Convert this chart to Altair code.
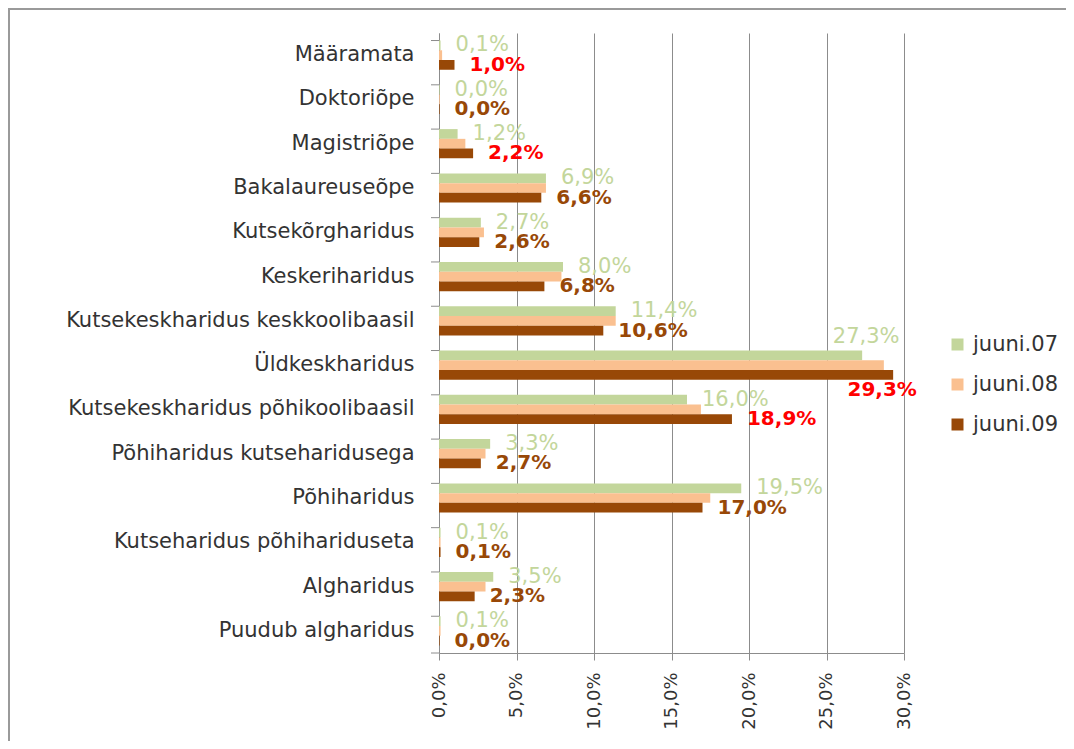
import altair as alt
import pandas as pd

categories = [
    "Määramata", "Doktoriõpe", "Magistriõpe", "Bakalaureuseõpe",
    "Kutsekõrgharidus", "Keskeriharidus", "Kutsekeskharidus keskkoolibaasil",
    "Üldkeskharidus", "Kutsekeskharidus põhikoolibaasil",
    "Põhiharidus kutseharidusega", "Põhiharidus", "Kutseharidus põhihariduseta",
    "Algharidus", "Puudub algharidus",
]
series = ["juuni.07", "juuni.08", "juuni.09"]
juuni07 = [0.1, 0.04, 1.2, 6.9, 2.7, 8.0, 11.4, 27.3, 16.0, 3.3, 19.5, 0.1, 3.5, 0.1]
juuni08 = [0.2, 0.05, 1.7, 6.9, 2.9, 7.9, 11.4, 28.7, 16.9, 3.0, 17.5, 0.1, 3.0, 0.1]
juuni09 = [1.0, 0.04, 2.2, 6.6, 2.6, 6.8, 10.6, 29.3, 18.9, 2.7, 17.0, 0.1, 2.3, 0.04]
x_ticks = [0, 5, 10, 15, 20, 25, 30]

# style
colors = ["#c3d69b", "#fac090", "#984807"]
highlight = ["Määramata", "Magistriõpe", "Üldkeskharidus",
             "Kutsekeskharidus põhikoolibaasil"]
FONT = "DejaVu Sans"
GRID = "#8c8c8c"
TEXT = "#333333"

rows = []
for s, vals in zip(series, [juuni07, juuni08, juuni09]):
    for c, v in zip(categories, vals):
        rows.append({"cat": c, "series": s, "v": v})
df = pd.DataFrame(rows)

base = alt.Chart(df).transform_calculate(
    label="replace(format(datum.v, '.1f'), '.', ',') + '%'"
)

y_enc = alt.Y(
    "cat:N", sort=categories,
    scale=alt.Scale(paddingInner=0.34, paddingOuter=0.17),
    axis=alt.Axis(title=None, ticks=False, tickSize=0, labelPadding=25,
                  labelFontSize=21, labelFont=FONT, labelColor=TEXT,
                  domainColor=GRID, labelLimit=600),
)
yoff = alt.YOffset("series:N", sort=series,
                   scale=alt.Scale(paddingInner=0, paddingOuter=0))

bars = base.mark_bar().encode(
    x=alt.X("v:Q", scale=alt.Scale(domain=[0, 30], nice=False),
            axis=alt.Axis(title=None, values=x_ticks, grid=True, gridColor=GRID,
                          gridOpacity=1, domainColor=GRID, tickColor=GRID,
                          tickSize=7, labelAngle=-90, labelPadding=12,
                          labelFontSize=18, labelFont=FONT, labelColor=TEXT,
                          labelExpr="replace(format(datum.value, '.1f'), '.', ',') + '%'")),
    y=y_enc,
    yOffset=yoff,
    color=alt.Color("series:N", sort=series,
                    scale=alt.Scale(domain=series, range=colors),
                    legend=alt.Legend(title=None, orient="none", legendX=508,
                                      legendY=301, symbolType="square",
                                      symbolSize=144, symbolStrokeWidth=0,
                                      labelFontSize=21, labelFont=FONT,
                                      labelColor=TEXT, labelOffset=5,
                                      rowPadding=18, padding=0)),
)

green_norm = base.transform_filter(
    "datum.series == 'juuni.07' && datum.v <= 25"
).mark_text(align="left", baseline="middle", dx=15, fontSize=21, font=FONT,
            color="#c3d69b").encode(x="v:Q", y=alt.Y("cat:N", sort=categories),
                                    yOffset=yoff, text="label:N")
green_over = base.transform_filter(
    "datum.series == 'juuni.07' && datum.v > 25"
).mark_text(align="center", baseline="middle", dx=4, dy=-18, fontSize=21,
            font=FONT, color="#c3d69b").encode(
    x="v:Q", y=alt.Y("cat:N", sort=categories), yOffset=yoff, text="label:N")

brown_color = alt.condition(alt.FieldOneOfPredicate(field="cat", oneOf=highlight),
                            alt.value("#ff0000"), alt.value("#984807"))
brown_norm = base.transform_filter(
    "datum.series == 'juuni.09' && datum.v <= 25"
).mark_text(align="left", baseline="middle", dx=15, fontSize=20, font=FONT,
            fontWeight="bold").encode(
    x="v:Q", y=alt.Y("cat:N", sort=categories), yOffset=yoff, text="label:N",
    color=brown_color)
brown_over = base.transform_filter(
    "datum.series == 'juuni.09' && datum.v > 25"
).mark_text(align="center", baseline="middle", dx=-11, dy=15, fontSize=20,
            font=FONT, fontWeight="bold").encode(
    x="v:Q", y=alt.Y("cat:N", sort=categories), yOffset=yoff, text="label:N",
    color=brown_color)

ticks = alt.Chart(pd.DataFrame({"cat": categories})).mark_rule(
    color=GRID, strokeWidth=1
).encode(y=alt.Y("cat:N", sort=categories, bandPosition=0),
         x=alt.value(-8), x2=alt.value(0))
bottom_tick = alt.Chart(pd.DataFrame({"cat": categories[-1:]})).mark_rule(
    color=GRID, strokeWidth=1
).encode(y=alt.value(620), x=alt.value(-8), x2=alt.value(0))

frame_left = alt.Chart(pd.DataFrame({"a": [0]})).mark_rule(
    color="#9a9a9a", strokeWidth=2
).encode(x=alt.value(-430), y=alt.value(-24), y2=alt.value(720))
frame_top = alt.Chart(pd.DataFrame({"a": [0]})).mark_rule(
    color="#9a9a9a", strokeWidth=2
).encode(x=alt.value(-431), x2=alt.value(700), y=alt.value(-24))

chart = alt.layer(
    bars, green_norm, green_over, brown_norm, brown_over, ticks, bottom_tick,
    frame_left, frame_top
).properties(
    width=465, height=620,
    autosize=alt.AutoSizeParams(type="none"),
    padding={"left": 431, "top": 25, "right": 162, "bottom": 88},
    background="white",
).configure_view(stroke=None)

chart.save("out.html", embed_options={"renderer": "svg", "actions": False})
